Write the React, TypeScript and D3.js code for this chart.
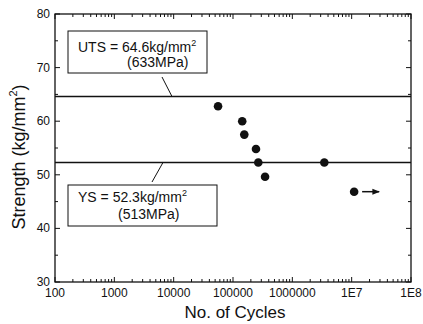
import React from "react";
import * as d3 from "d3";

const cycles = [56000, 143000, 155000, 244000, 267000, 347000, 3460000, 11000000];
const strength = [62.8, 60.0, 57.5, 54.8, 52.3, 49.65, 52.3, 46.85];
const runout = [false, false, false, false, false, false, false, true];
const xTickValues = [1e2, 1e3, 1e4, 1e5, 1e6, 1e7, 1e8];
const xTickLabels = ["100", "1000", "10000", "100000", "1000000", "1E7", "1E8"];
const yTickValues = [30, 40, 50, 60, 70, 80];
const UTS = 64.6;
const YS = 52.3;

export default function App() {
  const W = 423, H = 324;
  const m = { left: 55, right: 411, top: 14, bottom: 282 };
  const x = d3.scaleLog().domain([1e2, 1e8]).range([m.left, m.right]);
  const y = d3.scaleLinear().domain([30, 80]).range([m.bottom, m.top]);
  const font = "'Liberation Sans', Arial, sans-serif";

  const minorX: number[] = [];
  for (let e = 2; e < 8; e++) for (let k = 2; k <= 9; k++) minorX.push(k * Math.pow(10, e));
  const minorY = d3.range(35, 80, 10);

  const stroke = "#111";
  return (
    <svg width={W} height={H} style={{ position: "absolute", left: 0, top: 0, background: "#fff" }}>
      <defs>
        <marker id="ah" viewBox="0 0 10 10" refX="9" refY="5" markerWidth="5" markerHeight="5" orient="auto">
          <path d="M0,1 L10,5 L0,9 z" fill={stroke} />
        </marker>
      </defs>
      <rect x={m.left} y={m.top} width={m.right - m.left} height={m.bottom - m.top} fill="none" stroke={stroke} strokeWidth={1.3} />
      {xTickValues.map((v, i) => (
        <g key={"xt" + i}>
          <line x1={x(v)} x2={x(v)} y1={m.bottom} y2={m.bottom - 5} stroke={stroke} />
          <line x1={x(v)} x2={x(v)} y1={m.top} y2={m.top + 5} stroke={stroke} />
          <text x={x(v)} y={297} textAnchor="middle" fontSize={12} fontFamily={font} fill={stroke}>{xTickLabels[i]}</text>
        </g>
      ))}
      {minorX.map((v, i) => (
        <g key={"xm" + i}>
          <line x1={x(v)} x2={x(v)} y1={m.bottom} y2={m.bottom - 3} stroke={stroke} />
          <line x1={x(v)} x2={x(v)} y1={m.top} y2={m.top + 3} stroke={stroke} />
        </g>
      ))}
      {yTickValues.map((v, i) => (
        <g key={"yt" + i}>
          <line x1={m.left} x2={m.left + 5} y1={y(v)} y2={y(v)} stroke={stroke} />
          <line x1={m.right} x2={m.right - 5} y1={y(v)} y2={y(v)} stroke={stroke} />
          <text x={50} y={y(v) + 4} textAnchor="end" fontSize={12} fontFamily={font} fill={stroke}>{v}</text>
        </g>
      ))}
      {minorY.map((v, i) => (
        <g key={"ym" + i}>
          <line x1={m.left} x2={m.left + 3} y1={y(v)} y2={y(v)} stroke={stroke} />
          <line x1={m.right} x2={m.right - 3} y1={y(v)} y2={y(v)} stroke={stroke} />
        </g>
      ))}
      <line x1={m.left} x2={m.right} y1={y(UTS)} y2={y(UTS)} stroke={stroke} strokeWidth={1.5} />
      <line x1={m.left} x2={m.right} y1={y(YS)} y2={y(YS)} stroke={stroke} strokeWidth={1.5} />
      {cycles.map((c, i) => (
        <g key={"p" + i}>
          <circle cx={x(c)} cy={y(strength[i])} r={4.3} fill={stroke} />
          {runout[i] && (
            <line x1={x(c) + 8} x2={x(c) + 25} y1={y(strength[i])} y2={y(strength[i])} stroke={stroke} strokeWidth={1.5} markerEnd="url(#ah)" />
          )}
        </g>
      ))}
      <rect x={68} y={31} width={139} height={42} fill="#fff" stroke={stroke} strokeWidth={1} />
      <text x={78} y={52} fontSize={14} fontFamily={font} fill={stroke}>UTS = 64.6kg/mm<tspan fontSize={9} dy={-6}>2</tspan></text>
      <text x={127} y={67} fontSize={14} fontFamily={font} fill={stroke}>(633MPa)</text>
      <line x1={162} y1={77} x2={172} y2={y(UTS)} stroke={stroke} strokeWidth={1} />
      <rect x={68} y={185} width={149} height={41} fill="#fff" stroke={stroke} strokeWidth={1} />
      <text x={78} y={202} fontSize={14} fontFamily={font} fill={stroke}>YS = 52.3kg/mm<tspan fontSize={9} dy={-6}>2</tspan></text>
      <text x={118} y={219} fontSize={14} fontFamily={font} fill={stroke}>(513MPa)</text>
      <line x1={152} y1={182} x2={163} y2={y(YS)} stroke={stroke} strokeWidth={1} />
      <text x={235} y={318} textAnchor="middle" fontSize={17} fontFamily={font} fill={stroke}>No. of Cycles</text>
      <text transform={`translate(25,157) rotate(-90)`} textAnchor="middle" fontSize={18} fontFamily={font} fill={stroke}>
        Strength (kg/mm<tspan fontSize={11} dy={-8}>2</tspan><tspan dy={8}>)</tspan>
      </text>
    </svg>
  );
}
